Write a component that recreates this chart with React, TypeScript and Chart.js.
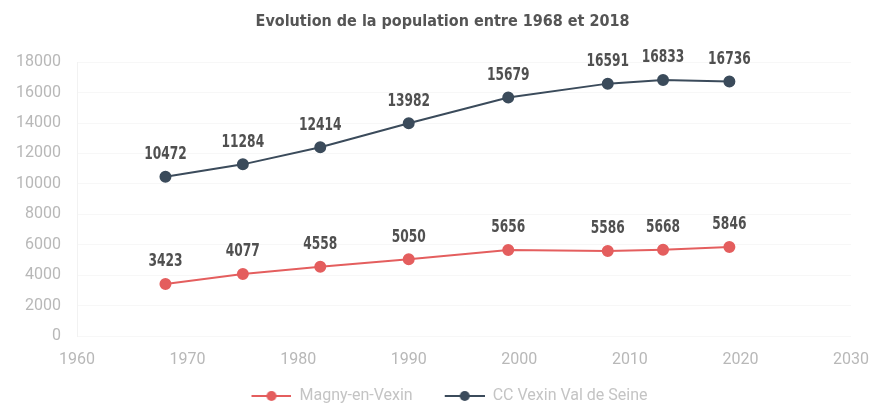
import React, { useEffect, useRef } from 'react';
import { Chart, registerables } from 'chart.js';
Chart.register(...registerables);

const titleText = 'Evolution de la population entre 1968 et 2018';
const years = [1968, 1975, 1982, 1990, 1999, 2008, 2013, 2019];
const magnyValues = [3423, 4077, 4558, 5050, 5656, 5586, 5668, 5846];
const ccValues = [10472, 11284, 12414, 13982, 15679, 16591, 16833, 16736];
const seriesNames = ['Magny-en-Vexin', 'CC Vexin Val de Seine'];
const xMin = 1960;
const xMax = 2030;
const xStep = 10;
const yMin = 0;
const yMax = 18000;
const yStep = 2000;

const RED = '#e45e5e';
const DARK = '#3b4b5b';
const NARROW = "'Liberation Sans Narrow', 'DejaVu Sans Condensed', Roboto, sans-serif";

function makeMarker(color: string) {
  const c = document.createElement('canvas');
  c.width = 54;
  c.height = 12;
  const ctx = c.getContext('2d')!;
  ctx.strokeStyle = color;
  ctx.lineWidth = 2;
  ctx.beginPath();
  ctx.moveTo(14, 6);
  ctx.lineTo(54, 6);
  ctx.stroke();
  ctx.fillStyle = color;
  ctx.beginPath();
  ctx.arc(34, 6, 5, 0, Math.PI * 2);
  ctx.fill();
  return c;
}

const valueLabels = {
  id: 'valueLabels',
  afterDatasetsDraw(chart: any) {
    const ctx = chart.ctx;
    chart.data.datasets.forEach((ds: any, i: number) => {
      const meta = chart.getDatasetMeta(i);
      meta.data.forEach((pt: any, j: number) => {
        ctx.save();
        ctx.font = `bold 17px ${NARROW}`;
        ctx.fillStyle = '#505050';
        ctx.textAlign = 'center';
        ctx.textBaseline = 'middle';
        ctx.translate(pt.x, pt.y - 22);
        ctx.scale(0.8, 1);
        ctx.fillText(String(ds.data[j].y), 0, 0);
        ctx.restore();
      });
    });
  },
};

export default function App() {
  const ref = useRef<HTMLCanvasElement>(null);
  useEffect(() => {
    document.body.style.margin = '0';
    const markers = [makeMarker(RED), makeMarker(DARK)];
    const chart = new Chart(ref.current!, {
      type: 'line',
      data: {
        datasets: [
          {
            label: seriesNames[0],
            data: years.map((x, i) => ({ x, y: magnyValues[i] })),
            borderColor: RED,
            backgroundColor: RED,
            borderWidth: 2,
            pointRadius: 5,
            pointBackgroundColor: RED,
            pointBorderColor: RED,
          },
          {
            label: seriesNames[1],
            data: years.map((x, i) => ({ x, y: ccValues[i] })),
            borderColor: DARK,
            backgroundColor: DARK,
            borderWidth: 2,
            pointRadius: 5,
            pointBackgroundColor: DARK,
            pointBorderColor: DARK,
          },
        ],
      },
      options: {
        animation: false,
        responsive: false,
        maintainAspectRatio: false,
        layout: { padding: { left: 12, right: 2, top: 0, bottom: -9 } },
        scales: {
          x: {
            type: 'linear',
            min: xMin,
            max: xMax,
            ticks: {
              stepSize: xStep,
              color: '#b8b8b8',
              font: { family: 'Roboto', size: 16 },
              padding: 6,
              callback: (v: any) => String(v),
            },
            grid: { display: false },
            border: { display: false },
            afterFit: (s: any) => {
              s.height = 34;
            },
          },
          y: {
            min: yMin,
            max: yMax,
            ticks: {
              stepSize: yStep,
              color: '#b8b8b8',
              font: { family: 'Roboto', size: 16 },
              padding: 16,
              callback: (v: any) => String(v),
            },
            grid: { color: 'rgba(0,0,0,0.03)', drawTicks: false },
            border: { display: true, color: 'rgba(0,0,0,0.05)' },
            afterFit: (s: any) => {
              s.width = 65;
            },
          },
        },
        plugins: {
          title: {
            display: true,
            text: titleText,
            color: '#555555',
            font: { family: NARROW, size: 16, weight: 'bold' },
            padding: { top: 12, bottom: 31 },
          },
          legend: {
            position: 'bottom',
            labels: {
              usePointStyle: true,
              pointStyleWidth: 54,
              color: '#c4c4c4',
              font: { family: 'Roboto', size: 16 },
              padding: 18,
              generateLabels: (c: any) =>
                (Chart.defaults.plugins.legend.labels as any)
                  .generateLabels(c)
                  .map((l: any, i: number) => ({ ...l, pointStyle: markers[i] })),
            },
          },
          tooltip: { enabled: false },
        },
      },
      plugins: [valueLabels],
    } as any);
    return () => chart.destroy();
  }, []);
  return (
    <div style={{ width: 875, height: 405 }}>
      <canvas ref={ref} width={875} height={405} style={{ display: 'block' }} />
    </div>
  );
}
